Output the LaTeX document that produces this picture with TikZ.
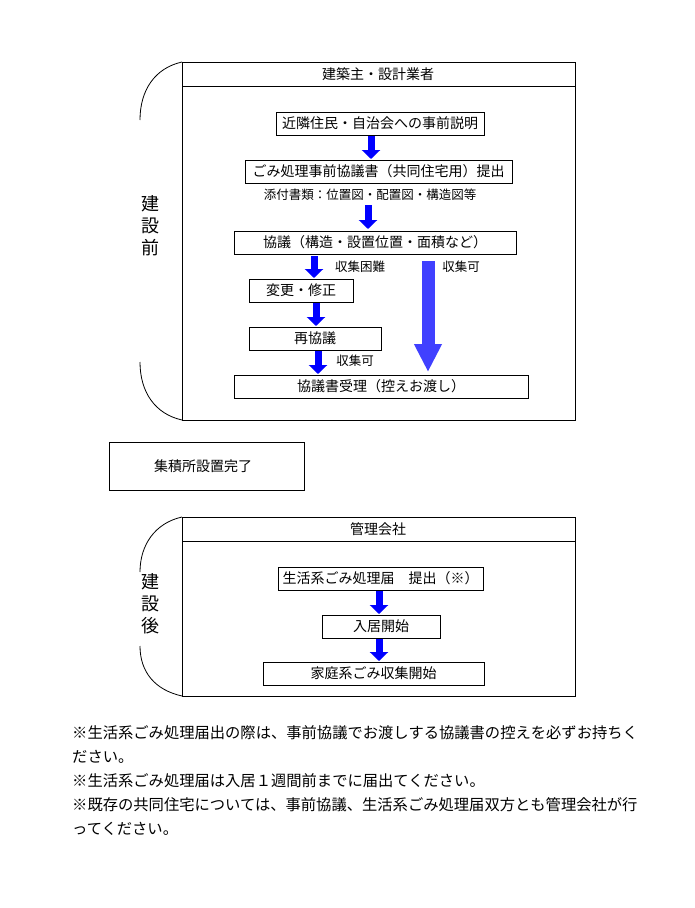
\documentclass[tikz,border=0pt]{standalone}
\usepackage{fontspec}
\setmainfont{Noto Sans CJK JP}
\usetikzlibrary{arrows.meta}
\begin{document}
\begin{tikzpicture}[x=1pt,y=-1pt,
  box/.style={draw,line width=0.8pt,inner sep=0pt,font=\fontsize{14}{16}\selectfont},
  frame/.style={draw,line width=0.8pt},
  lbl/.style={font=\fontsize{12.5}{14}\selectfont,inner sep=0pt},
  barrow/.style={draw=blue,line width=7pt,-{Triangle[width=18pt,length=9pt]}},
  bigarrow/.style={draw=blue!75!white,line width=13pt,-{Triangle[width=26pt,length=28pt]}},
  note/.style={anchor=west,inner sep=0pt,font=\fontsize{15.3}{17}\selectfont},
  side/.style={align=center,font=\fontsize{18}{22}\selectfont,inner sep=0pt}]
\useasboundingbox (0,0) rectangle (695,908);
% top frame
\draw[frame] (182,62) rectangle (575,420);
\draw[frame] (182,86) -- (575,86);
\node at (378,74) {\fontsize{14}{16}\selectfont 建築主・設計業者};
\draw[line width=0.8pt] (182,62) .. controls (155,68) and (140,90) .. (140,120);
\draw[line width=0.8pt] (140,362) .. controls (140,392) and (155,414) .. (182,420);
\node[side] at (150,226) {建\\設\\前};
\node[box,minimum width=208pt,minimum height=23pt] (n1) at (380,123.5) {近隣住民・自治会への事前説明};
\node[box,minimum width=267pt,minimum height=23pt] (n2) at (378.5,171.5) {ごみ処理事前協議書（共同住宅用）提出};
\node[lbl] (att) at (370,195) {添付書類：位置図・配置図・構造図等};
\node[box,minimum width=282pt,minimum height=23pt] (n3) at (375,242.5) {協議（構造・設置位置・面積など）};
\node[box,minimum width=104pt,minimum height=23pt] (n4) at (301,290.5) {変更・修正};
\node[box,minimum width=132pt,minimum height=23pt] (n5) at (315,338.5) {再協議};
\node[box,minimum width=294pt,minimum height=23pt] (n6) at (381,386.5) {協議書受理（控えお渡し）};
\node[lbl] at (360,267) {収集困難};
\node[lbl] at (461,267) {収集可};
\node[lbl] at (355,361) {収集可};
\draw[barrow] (371,136) -- (371,159);
\draw[barrow] (368,205) -- (368,229);
\draw[barrow] (314,256) -- (314,278);
\draw[barrow] (316,303) -- (316,326);
\draw[barrow] (318,351) -- (318,374);
\draw[bigarrow] (428,261) -- (428,372);
% middle
\node[box,minimum width=195pt,minimum height=48pt] (mid) at (206.5,466) {};
\node at (203,466) {\fontsize{14}{16}\selectfont 集積所設置完了};
% bottom frame
\draw[frame] (182,517) rectangle (575,696);
\draw[frame] (182,541) -- (575,541);
\node at (378,529) {\fontsize{14}{16}\selectfont 管理会社};
\draw[line width=0.8pt] (182,517) .. controls (155,523) and (140,545) .. (140,572);
\draw[line width=0.8pt] (140,646) .. controls (140,672) and (155,690) .. (182,696);
\node[side] at (150,604) {建\\設\\後};
\node[box,minimum width=205pt,minimum height=23pt] (b1) at (380.5,578.5) {生活系ごみ処理届　提出（※）};
\node[box,minimum width=118pt,minimum height=23pt] (b2) at (381,626.5) {入居開始};
\node[box,minimum width=221pt,minimum height=23pt] (b3) at (373.5,673.5) {家庭系ごみ収集開始};
\draw[barrow] (379,591) -- (379,614);
\draw[barrow] (379,639) -- (379,661);
% notes
\node[note] at (72,733) {※生活系ごみ処理届出の際は、事前協議でお渡しする協議書の控えを必ずお持ちく};
\node[note] at (72,757) {ださい。};
\node[note] at (72,781) {※生活系ごみ処理届は入居１週間前までに届出てください。};
\node[note] at (72,805) {※既存の共同住宅については、事前協議、生活系ごみ処理届双方とも管理会社が行};
\node[note] at (72,829) {ってください。};
\end{tikzpicture}
\end{document}
